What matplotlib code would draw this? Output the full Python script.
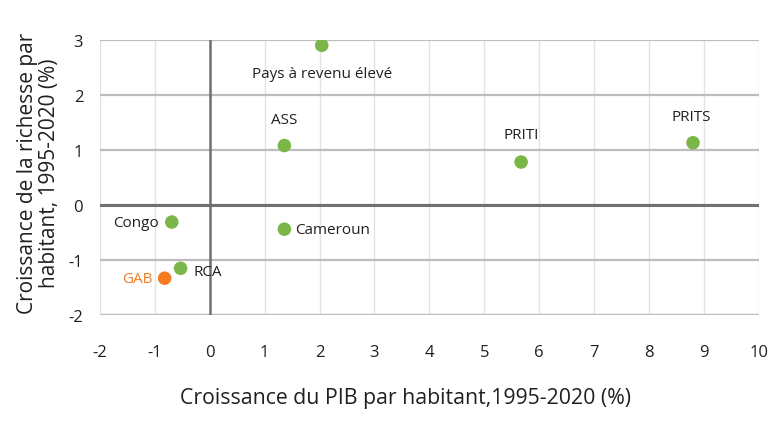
import matplotlib
matplotlib.use("Agg")
import matplotlib.pyplot as plt

labels = ["Pays à revenu élevé", "ASS", "PRITI", "PRITS", "Congo", "Cameroun", "RCA", "GAB"]
gdp_growth = [2.04, 1.36, 5.67, 8.8, -0.69, 1.36, -0.53, -0.82]
wealth_growth = [2.9, 1.08, 0.78, 1.13, -0.31, -0.44, -1.15, -1.33]
xticks = [-2, -1, 0, 1, 2, 3, 4, 5, 6, 7, 8, 9, 10]
yticks = [-2, -1, 0, 1, 2, 3]

green = '#7ab648'
orange = '#f47b20'
colors = [orange if l == "GAB" else green for l in labels]
fam = ['Open Sans', 'DejaVu Sans']

fig = plt.figure(figsize=(7.8, 4.39), dpi=100)
ax = fig.add_axes([0.128, 0.280, 0.845, 0.627])
ax.set_xlim(-2, 10)
ax.set_ylim(-2, 3)

for x in xticks:
    ax.axvline(x, color='#e3e3e3', lw=1, zorder=0)
for y in yticks:
    ax.axhline(y, color='#bdbdbd', lw=1.6, zorder=1)
ax.axhline(0, color='#707070', lw=2.2, zorder=2)
ax.axhline(-2, color='#bdbdbd', lw=1.6, zorder=2)
ax.axvline(0, color='#707070', lw=1.8, zorder=2)

ax.scatter(gdp_growth, wealth_growth, s=95, c=colors, zorder=5, linewidths=0)

offsets = {
    "Pays à revenu élevé": (0, -20, 'center', 'center'),
    "ASS": (0, 19, 'center', 'center'),
    "PRITI": (0, 20, 'center', 'center'),
    "PRITS": (-1, 19, 'center', 'center'),
    "Congo": (-9, 0, 'right', 'center'),
    "Cameroun": (8, 0, 'left', 'center'),
    "RCA": (9, -2, 'left', 'center'),
    "GAB": (-9, 0, 'right', 'center'),
}
for l, x, y, c in zip(labels, gdp_growth, wealth_growth, colors):
    dx, dy, ha, va = offsets[l]
    tc = orange if l == "GAB" else '#231f20'
    ax.annotate(l, (x, y), xytext=(dx, dy), textcoords='offset points',
                ha=ha, va=va, fontsize=11, color=tc, family=fam)

ax.set_xticks(xticks)
ax.set_yticks(yticks)
ax.set_xticklabels([str(t) for t in xticks], family=fam, fontsize=12, color='#231f20')
ax.set_yticklabels([str(t) for t in yticks], family=fam, fontsize=12, color='#231f20')
ax.tick_params(axis='x', length=0, pad=21)
ax.tick_params(axis='y', length=0, pad=12)
for s in ax.spines.values():
    s.set_visible(False)

ax.set_xlabel("Croissance du PIB par habitant,1995-2020 (%)", fontsize=15.3,
              family=fam, color='#231f20', va='center')
ax.xaxis.set_label_coords(0.463, -0.298)
ax.set_ylabel("Croissance de la richesse par\nhabitant, 1995-2020 (%)", fontsize=15,
              family=fam, color='#231f20', linespacing=1.1, va='center')
ax.yaxis.set_label_coords(-0.093, 0.52)

fig.savefig("out.png", dpi=100)
